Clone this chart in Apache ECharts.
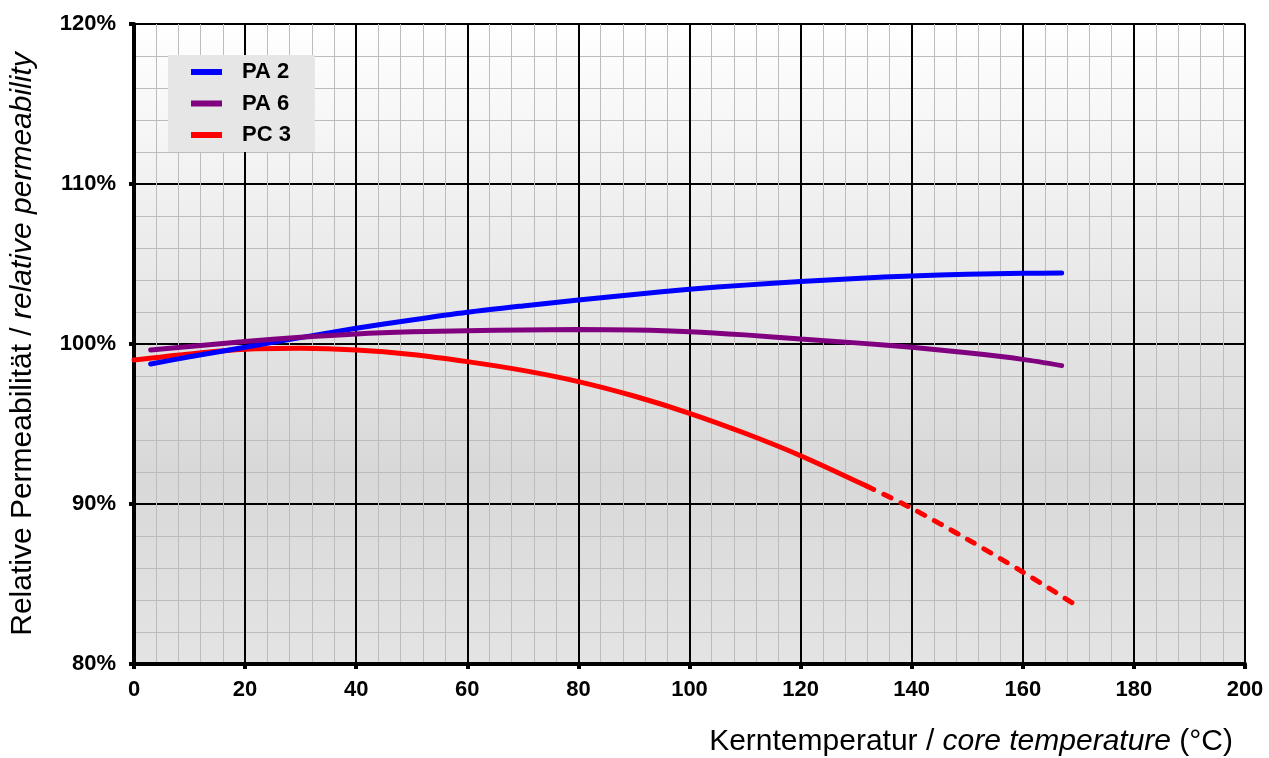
<!DOCTYPE html>
<html><head><meta charset="utf-8">
<script src="https://cdn.jsdelivr.net/npm/echarts@6/dist/echarts.min.js"></script>
<style>html,body{margin:0;padding:0;background:#fff}#c{width:1269px;height:758px}</style>
</head><body><div id="c"></div>
<script>
var xTicks = [0,20,40,60,80,100,120,140,160,180,200];
var yTicks = [80,90,100,110,120];
var seriesNames = ['PA 2','PA 6','PC 3'];
var pa2 = [[3,98.75],[10,99.2],[20,99.8],[30,100.4],[40,100.98],[50,101.5],[60,101.98],[70,102.38],[80,102.75],[90,103.1],[100,103.42],[110,103.68],[120,103.9],[130,104.1],[140,104.25],[150,104.36],[160,104.42],[167,104.43]];
var pa6 = [[3,99.62],[10,99.85],[20,100.15],[30,100.42],[40,100.63],[50,100.76],[60,100.83],[70,100.88],[80,100.9],[90,100.87],[100,100.77],[110,100.57],[120,100.31],[130,100.07],[140,99.79],[150,99.45],[160,99.04],[167,98.65]];
var pc3 = [[0,99.0],[10,99.38],[20,99.67],[30,99.73],[40,99.63],[50,99.35],[60,98.9],[70,98.35],[80,97.65],[90,96.75],[100,95.67],[110,94.42],[120,93.02],[131.9,91.12]];
var pc3Dashed = [[131.9,91.12],[140,89.73],[150,87.8],[160,85.75],[170.1,83.56]];

var chart = echarts.init(document.getElementById('c'));
var font = 'Liberation Sans, Arial, sans-serif';
chart.setOption({
  animation:false,
  textStyle:{fontFamily:font},
  grid:{left:134,right:24,top:24,bottom:94,show:true,borderColor:'#a6a6a6',borderWidth:2,
    outerBoundsMode:'none',containLabel:false,
    backgroundColor:new echarts.graphic.LinearGradient(0,0,0,1,[{offset:0,color:'#ffffff'},{offset:0.7,color:'#d8d8d8'},{offset:1,color:'#e4e4e4'}])},
  legend:{data:seriesNames,orient:'vertical',left:168,top:55,padding:[6,24,6,23],itemGap:9.5,
    backgroundColor:'#e6e6e6',icon:'rect',itemWidth:31,itemHeight:6,
    textStyle:{fontSize:22,lineHeight:22,fontWeight:'bold',color:'#000',fontFamily:font,padding:[0,0,0,15]}},
  xAxis:{type:'value',min:xTicks[0],max:xTicks[xTicks.length-1],interval:20,
    axisLine:{show:true,lineStyle:{color:'#000',width:4}},
    axisTick:{show:true,inside:false,length:5,lineStyle:{color:'#000',width:4}},
    axisLabel:{fontSize:22,fontWeight:'bold',color:'#000',margin:15},
    splitLine:{show:true,lineStyle:{color:'#000',width:2}},
    minorTick:{show:true,splitNumber:5,length:0},
    minorSplitLine:{show:true,lineStyle:{color:'#bcbcbc',width:1}}},
  yAxis:{type:'value',min:yTicks[0],max:yTicks[yTicks.length-1],interval:10,
    axisLine:{show:true,lineStyle:{color:'#000',width:4}},
    axisTick:{show:true,length:5,lineStyle:{color:'#000',width:4}},
    axisLabel:{fontSize:22,fontWeight:'bold',color:'#000',margin:18,formatter:function(v){return v+'%';}},
    splitLine:{show:true,lineStyle:{color:'#000',width:2}},
    minorTick:{show:true,splitNumber:5,length:0},
    minorSplitLine:{show:true,lineStyle:{color:'#bcbcbc',width:1}},
    name:'{a|Relative Permeabilität / }{b|relative permeability}',nameLocation:'middle',nameGap:96,
    nameTextStyle:{rich:{a:{fontSize:30,color:'#000',fontFamily:font},b:{fontSize:30,color:'#000',fontStyle:'italic',fontFamily:font}}}},
  graphic:[{type:'text',right:36,top:727,style:{text:'{a|Kerntemperatur / }{b|core temperature}{a| (°C)}',
    rich:{a:{fontSize:30,fill:'#000',fontFamily:font},b:{fontSize:30,fill:'#000',fontStyle:'italic',fontFamily:font}}}}],
  series:[
    {name:'PA 2',type:'line',data:pa2,smooth:0.3,showSymbol:false,color:'#0000ff',lineStyle:{width:5,color:'#0000ff',cap:'round'},z:3},
    {name:'PA 6',type:'line',data:pa6,smooth:0.3,showSymbol:false,color:'#800080',lineStyle:{width:5,color:'#800080',cap:'round'},z:4},
    {name:'PC 3',type:'line',data:pc3,smooth:0.3,showSymbol:false,color:'#ff0000',lineStyle:{width:5,color:'#ff0000',cap:'round'},z:2},
    {name:'PC 3 dashed',type:'line',data:pc3Dashed,smooth:0.3,showSymbol:false,color:'#ff0000',lineStyle:{width:5,color:'#ff0000',type:[8,11],cap:'round'},z:2}
  ]
});
</script></body></html>
